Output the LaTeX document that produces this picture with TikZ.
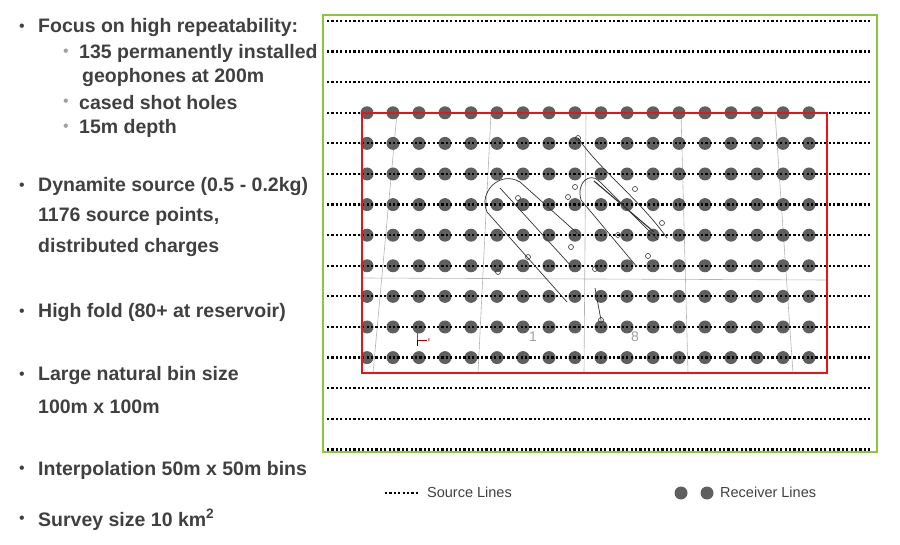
\documentclass[tikz,border=0pt]{standalone}
\usepackage{fontspec}
\setmainfont{Liberation Sans}
\usetikzlibrary{positioning}
\definecolor{txtgray}{HTML}{404040}
\definecolor{lightgray}{HTML}{A0A0A0}
\definecolor{dotgray}{HTML}{5F5F5F}
\definecolor{boxgreen}{HTML}{8CC63F}
\definecolor{boxred}{HTML}{E8141B}
\tikzset{
  txt/.style={anchor=west,inner sep=0pt,text=txtgray,font=\bfseries\fontsize{19.5}{21}\selectfont},
  bul/.style={anchor=west,inner sep=0pt,text=txtgray,font=\fontsize{16}{18}\selectfont},
  sub/.style={anchor=west,inner sep=0pt,text=lightgray,font=\fontsize{16}{18}\selectfont},
  srcline/.style={line width=2.2pt,dash pattern=on 2.2pt off 2.2pt},
  rcv/.style={circle,fill=dotgray,inner sep=0pt,minimum size=13pt},
  grid/.style={lightgray!80,line width=0.6pt},
  contour/.style={black!80,line width=0.7pt},
  well/.style={circle,draw=black!80,line width=0.6pt,inner sep=0pt,minimum size=5pt}
}
\begin{document}
\begin{tikzpicture}[x=1pt,y=-1pt]
	\useasboundingbox (0,0) rectangle (900,545);
	% Text
		\node[bul] (b1) at (19,28) {•};
		\node[txt] (t1) at (38,28) {Focus on high repeatability:};
		\node[sub] (s1) at (63,53) {•};
		\node[txt] (t2) at (79,53) {135 permanently installed};
		\node[txt] (t3) at (82,78) {geophones at 200m};
		\node[sub] (s2) at (63,103) {•};
		\node[txt] (t4) at (79,103) {cased shot holes};
		\node[sub] (s3) at (63,128) {•};
		\node[txt] (t5) at (79,128) {15m depth};
		\node[bul] (b2) at (19,187) {•};
		\node[txt] (t6) at (38,187) {Dynamite source (0.5 - 0.2kg)};
		\node[txt] (t7) at (38,216) {1176 source points,};
		\node[txt] (t8) at (38,248) {distributed charges};
		\node[bul] (b3) at (19,313) {•};
		\node[txt] (t9) at (38,313) {High fold (80+ at reservoir)};
		\node[bul] (b4) at (19,376) {•};
		\node[txt] (t10) at (38,376) {Large natural bin size};
		\node[txt] (t11) at (38,407) {100m x 100m};
		\node[bul] (b5) at (19,470) {•};
		\node[txt] (t12) at (38,470) {Interpolation 50m x 50m bins};
		\node[bul] (b6) at (19,520) {•};
		\node[txt] (t13) at (38,520) {Survey size 10 km\textsuperscript{2}};
	% Grid
		\draw[grid] (397,113) -- (373,373);
		\draw[grid] (491,113) -- (478,373);
		\draw[grid] (586,113) -- (584,373);
		\draw[grid] (681,113) -- (688,373);
		\draw[grid] (775,113) -- (793,373);
		\draw[grid] (362,278) -- (827,280);
	% Receiver lines
		\foreach \r in {3,...,11}
			\foreach \c in {0,...,17}
				\node[rcv] (r\r-\c) at (367+26*\c,{21+30.6*\r}) {};
	% Source lines
		\foreach \i in {0,...,14}
			\draw[srcline] (327,{21+30.6*\i}) -- (870,{21+30.6*\i});
	% Contours
		\draw[contour] (577,233) -- (520,182) .. controls (500,170) and (478,192) .. (487,212) -- (567,302);
		\draw[contour] (500,188) -- (572,267);
		\draw[contour] (578,138) .. controls (600,170) and (640,200) .. (667,238);
		\draw[contour] (658,240) -- (599,181) .. controls (590,172) and (576,182) .. (581,200) -- (637,267);
		\draw[contour,line width=1.1pt] (594,181) -- (654,232);
		\draw[contour] (595,288) -- (601,320);
		\foreach \x/\y [count=\k] in {578/138, 518/198, 575/187, 568/197, 635/189, 662/223, 618/235, 648/256, 528/257, 571/247, 498/272, 595/269, 601/320}
			\node[well] (w\k) at (\x,\y) {};
		\node[text=lightgray,font=\fontsize{14}{16}\selectfont] (n1) at (533,337) {1};
		\node[text=lightgray,font=\fontsize{14}{16}\selectfont] (n8) at (635,337) {8};
		\coordinate (ax) at (417,340);
		\draw[green!60!black,line width=0.6pt] (ax) -- ++(0,-7);
		\draw[red!70!black,line width=0.6pt] (ax) -- ++(10,0) node[right,inner sep=0.5pt,font=\fontsize{4}{4}\selectfont] {E};
		\draw[blue!70!black,line width=0.6pt] (ax) -- ++(0,6);
	% Boxes
		\draw[boxred,line width=2.6pt] (362,113) rectangle (827,373);
		\draw[boxgreen,line width=2.6pt] (323,15) rectangle (877,452);
	% Legend
		\coordinate (l1) at (385,493);
		\coordinate (l2) at (420,493);
		\draw[srcline] (l1) -- (l2);
		\node[anchor=west,inner sep=0pt,text=txtgray,font=\fontsize{14.5}{16}\selectfont] (src) at (427,492) {Source Lines};
		\node[rcv] (d1) at (681,493) {};
		\node[rcv] (d2) at (707,493) {};
		\node[anchor=west,inner sep=0pt,text=txtgray,font=\fontsize{14.5}{16}\selectfont] (rec) at (720,492) {Receiver Lines};
\end{tikzpicture}
\end{document}
